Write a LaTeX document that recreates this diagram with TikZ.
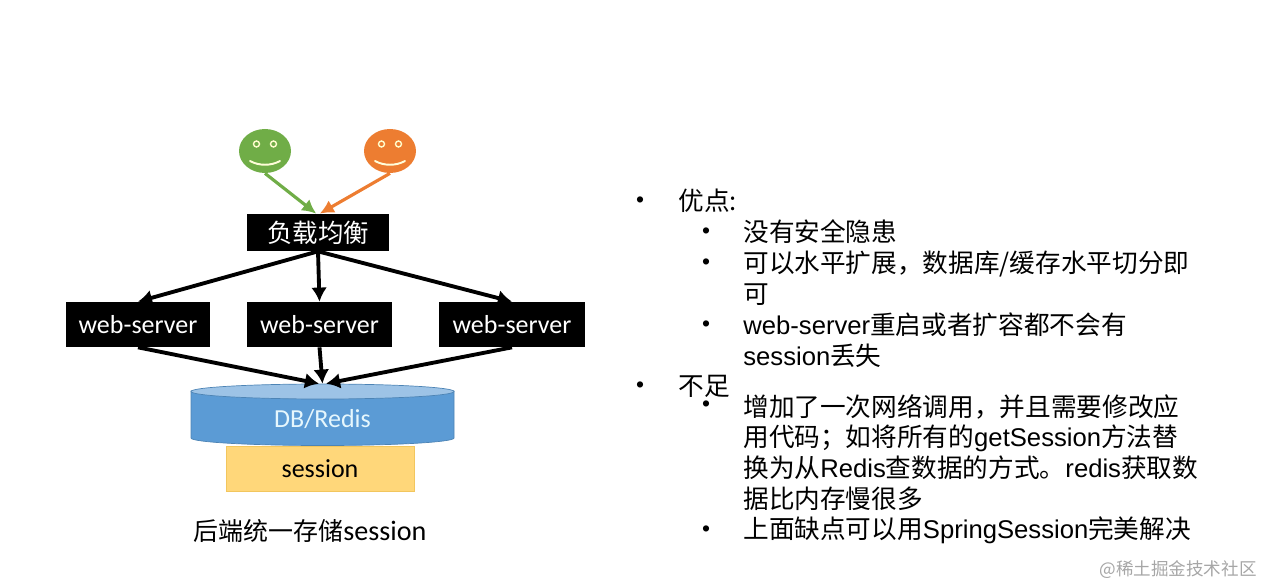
\documentclass[tikz,border=0pt]{standalone}
\usepackage{fontspec}
\setmainfont{Liberation Sans}
\newfontfamily\cjk{Noto Sans CJK SC}
\newfontfamily\carlito{Carlito}
\usetikzlibrary{arrows.meta,calc,positioning,shapes.geometric}
\definecolor{facegreen}{HTML}{70AD47}
\definecolor{faceorange}{HTML}{ED7D31}
\definecolor{dbblue}{HTML}{5B9BD5}
\definecolor{dblid}{HTML}{9DC3E6}
\definecolor{sessfill}{HTML}{FFD77A}
\definecolor{sessline}{HTML}{F2C65E}
\tikzset{
	blackbox/.style={fill=black,text=white,inner sep=0pt},
	face/.style={ellipse,inner sep=0pt,minimum width=52*0.02cm,minimum height=44*0.02cm},
	eye/.style={draw=white!80!yellow,line width=0.8pt},
	mouth/.style={draw=white!85!yellow,line width=1.1pt,line cap=round},
	bigarrow/.style={-{Latex[length=8pt,width=9pt]},line width=2.2pt,black},
	facearrow/.style={-{Latex[length=8pt,width=8pt]},line width=1.8pt},
	listtext/.style={anchor=west,align=left,inner sep=0pt,font=\fontsize{14.6}{17.6}\selectfont},
	listdot/.style={inner sep=0pt,font=\fontsize{13}{13}\selectfont},
}
\begin{document}
\begin{tikzpicture}[x=0.02cm,y=-0.02cm]
	\useasboundingbox (0,0) rectangle (1264,587);
	% faces
	\node[face,fill=facegreen] (face1) at (265,151) {};
	\node[face,fill=faceorange] (face2) at (390,151) {};
	\foreach \f in {face1,face2} {
		\draw[eye] ($(\f)+(-8.5,-7)$) circle (3);
		\draw[eye] ($(\f)+(8.5,-7)$) circle (3);
		\draw[mouth] ($(\f)+(-15,10)$) .. controls ($(\f)+(-6,15)$) and ($(\f)+(6,15)$) .. ($(\f)+(15,10)$);
	}
	% boxes
	\node[blackbox,minimum width=142*0.02cm,minimum height=37*0.02cm,font=\cjk\fontsize{14.5}{16}\selectfont] (lb) at (318,232.5) {负载均衡};
	\node[blackbox,minimum width=144*0.02cm,minimum height=45*0.02cm,font=\carlito\fontsize{14.8}{16}\selectfont] (web1) at (138,324.5) {web-server};
	\node[blackbox,minimum width=145*0.02cm,minimum height=45*0.02cm,font=\carlito\fontsize{14.8}{16}\selectfont] (web2) at (319.5,324.5) {web-server};
	\node[blackbox,minimum width=146*0.02cm,minimum height=45*0.02cm,font=\carlito\fontsize{14.8}{16}\selectfont] (web3) at (512,324.5) {web-server};
	\node[draw=sessline,fill=sessfill,minimum width=188*0.02cm,minimum height=45*0.02cm,inner sep=0pt,font=\carlito\fontsize{14.8}{16}\selectfont] (sess) at (320,468.5) {session};
	% db drum
	\filldraw[fill=dbblue,draw=dbblue!85!black,line width=0.4pt] (191,391) -- (191,438) arc[start angle=180,end angle=0,x radius=131.5,y radius=7.5] -- (454,391) -- cycle;
	\node[ellipse,draw=dbblue!85!black,fill=dblid,line width=0.4pt,inner sep=0pt,minimum width=263*0.02cm,minimum height=15*0.02cm] (dblid) at (322.5,391.5) {};
	\node[inner sep=0pt,text=white!90!cyan,font=\carlito\fontsize{14.8}{16}\selectfont] (db) at (322.5,419) {DB/Redis};
	% arrows
	\draw[facearrow,facegreen] (face1.south) -- ([xshift=-1pt]lb.north);
	\draw[facearrow,faceorange] (face2.south) -- ([xshift=1pt]lb.north);
	\draw[bigarrow] (lb.south) -- (web1.north);
	\draw[bigarrow] (lb.south) -- (web2.north);
	\draw[bigarrow] (lb.south) -- (web3.north);
	\draw[bigarrow] (web1.south) -- ([xshift=-2pt]dblid.north);
	\draw[bigarrow] (web2.south) -- (dblid.north);
	\draw[bigarrow] (web3.south) -- ([xshift=2pt]dblid.north);
	\node[font=\fontsize{14.2}{16}\selectfont] (caption) at (310,531) {\cjk 后端统一存储\carlito\fontsize{16}{16}\selectfont session};
	% list
	\node[listdot] (d1) at (640,202) {•};
	\node[listtext] (t1) at (678,201) {\cjk 优点:};
	\node[listdot] (d2) at (706,233) {•};
	\node[listtext] (t2) at (743,232) {\cjk 没有安全隐患};
	\node[listdot] (d3) at (706,264) {•};
	\node[listtext] (t3) at (743,278.5) {\cjk 可以水平扩展，数据库/缓存水平切分即\\\cjk 可};
	\node[listdot] (d4) at (706,326) {•};
	\node[listtext] (t4) at (743,340.5) {web-server{\cjk 重启或者扩容都不会有}\\session{\cjk 丢失}};
	\node[listdot] (d5) at (640,387) {•};
	\node[listtext] (t5) at (678,386) {\cjk 不足};
	\node[listdot] (d6) at (706,406) {•};
	\node[listtext] (t6) at (743,452.5) {\cjk 增加了一次网络调用，并且需要修改应\\{\cjk 用代码；如将所有的}get{S}ession{\cjk 方法替}\\{\cjk 换为从}Redis{\cjk 查数据的方式。}redis{\cjk 获取数}\\\cjk 据比内存慢很多};
	\node[listdot] (d7) at (706,531) {•};
	\node[listtext] (t7) at (743,530) {{\cjk 上面缺点可以用}SpringSession{\cjk 完美解决}};
	\node[anchor=east,inner sep=0pt,text=black!35,font=\cjk\fontsize{10}{12}\selectfont] (mark) at (1257,570) {@稀土掘金技术社区};
\end{tikzpicture}
\end{document}
